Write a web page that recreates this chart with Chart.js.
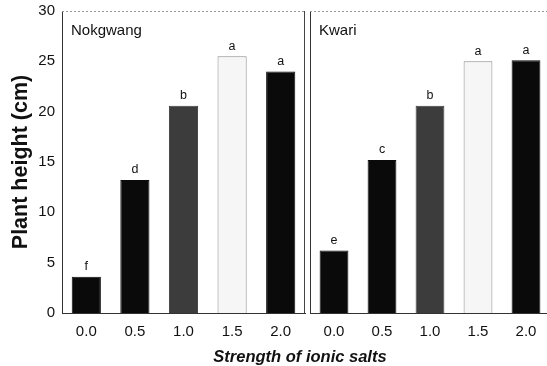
<!DOCTYPE html>
<html>
<head>
<meta charset="utf-8">
<script src="https://cdn.jsdelivr.net/npm/chart.js@4"></script>
<style>
html,body{margin:0;padding:0;background:#fff;overflow:hidden;}
#wrap{position:relative;width:547px;height:366px;overflow:hidden;}
#c1{position:absolute;left:0;top:0;}
#c2{position:absolute;left:310px;top:0;}
#xt{position:absolute;left:0;width:600px;top:347px;line-height:18px;text-align:center;font:italic bold 16.5px "Liberation Sans",Arial,sans-serif;color:#111;}
</style>
</head>
<body>
<div id="wrap">
<canvas id="c1" width="310" height="366"></canvas>
<canvas id="c2" width="240" height="366"></canvas>
<div id="xt">Strength of ionic salts</div>
</div>
<script>
const categories = ['0.0','0.5','1.0','1.5','2.0'];
const nokgwangValues = [3.6, 13.2, 20.6, 25.5, 24.0];
const kwariValues = [6.2, 15.2, 20.6, 25.0, 25.1];
const nokgwangLetters = ['f','d','b','a','a'];
const kwariLetters = ['e','c','b','a','a'];
const panelNames = ['Nokgwang','Kwari'];

const FONT = '"Liberation Sans", Arial, sans-serif';
const barFill = ['#0a0a0a','#0a0a0a','#3c3c3c','#f6f6f6','#0a0a0a'];
const barBorder = ['#0a0a0a','#0a0a0a','#3c3c3c','#8a8a8a','#0a0a0a'];

function lettersPlugin(letters, name){
  return {
    id:'letters',
    afterDatasetsDraw(chart){
      const ctx = chart.ctx;
      const meta = chart.getDatasetMeta(0);
      ctx.save();
      ctx.fillStyle = '#111';
      ctx.font = '12.5px ' + FONT;
      ctx.textAlign = 'center';
      ctx.textBaseline = 'bottom';
      meta.data.forEach((bar,i)=>{
        ctx.fillText(letters[i], bar.x, bar.y - 4);
      });
      ctx.font = '15px ' + FONT;
      ctx.textAlign = 'left';
      ctx.textBaseline = 'alphabetic';
      ctx.fillText(name, chart.chartArea.left + 9, 35);
      // frame: dotted top, solid right
      const a = chart.chartArea;
      ctx.strokeStyle = '#999';
      ctx.lineWidth = 1;
      ctx.setLineDash([2,2]);
      ctx.beginPath();
      ctx.moveTo(a.left, a.top + 0.5);
      ctx.lineTo(a.right, a.top + 0.5);
      ctx.stroke();
      ctx.setLineDash([]);
      ctx.strokeStyle = '#444';
      ctx.beginPath();
      ctx.moveTo(a.right - 0.5, a.top);
      ctx.lineTo(a.right - 0.5, a.bottom);
      ctx.stroke();
      ctx.restore();
    }
  };
}

function makeChart(id, values, letters, name, showY){
  return new Chart(document.getElementById(id), {
    type:'bar',
    data:{
      labels: categories,
      datasets:[{
        data: values,
        backgroundColor: barFill,
        borderColor: barBorder,
        borderWidth: 1,
        barPercentage: 0.6,
        categoryPercentage: 1.0
      }]
    },
    options:{
      responsive:false,
      animation:false,
      devicePixelRatio:1,
      layout:{padding:{top:11, right: showY ? 5 : 0, left:0, bottom:0}},
      plugins:{legend:{display:false}, tooltip:{enabled:false}},
      scales:{
        x:{
          grid:{display:false, drawTicks:false},
          border:{display:true, color:'#333', width:1},
          ticks:{color:'#111', font:{size:15, family:FONT}, padding:10, maxRotation:0},
          afterFit(s){ s.height = 53; s.paddingLeft = 0; s.paddingRight = 0; }
        },
        y:{
          min:0, max:30,
          grid:{display:false, drawTicks:false},
          border:{display:true, color:'#333', width:1},
          ticks:{display:showY, stepSize:5, color:'#111', font:{size:15, family:FONT}, padding:7},
          title:{display:showY, text:'Plant height (cm)', color:'#111', font:{size:21.5, weight:'bold', family:FONT}, padding:{top:8,bottom:0}},
          afterFit(s){ s.width = showY ? 62 : 0; s.paddingTop = 0; s.paddingBottom = 0; }
        }
      }
    },
    plugins:[lettersPlugin(letters, name)]
  });
}

makeChart('c1', nokgwangValues, nokgwangLetters, panelNames[0], true);
makeChart('c2', kwariValues, kwariLetters, panelNames[1], false);
</script>
</body>
</html>
